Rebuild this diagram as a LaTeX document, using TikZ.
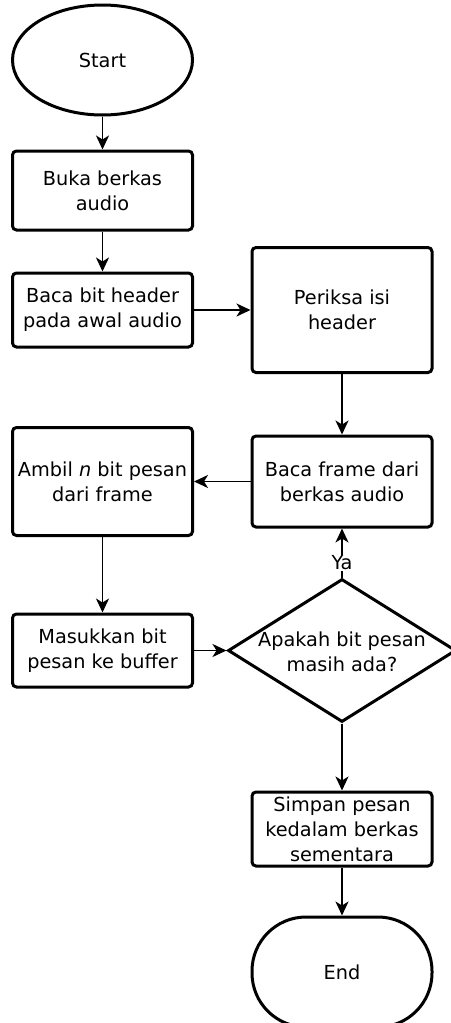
\documentclass[tikz,border=0pt]{standalone}
\usepackage{fontspec}
\setmainfont{DejaVu Sans}
\usetikzlibrary{shapes.geometric,arrows.meta}
\begin{document}
\begin{tikzpicture}[x=1pt,y=-1pt,
  txt/.style={font=\fontsize{19.3}{25}\selectfont, align=center, inner sep=0pt},
  boxnode/.style={txt, draw, line width=3pt, rounded corners=4pt, minimum width=180pt},
  startnode/.style={txt, draw, ellipse, line width=3pt, minimum width=180pt, minimum height=110pt},
  endnode/.style={txt, draw, rectangle, line width=3pt, rounded corners=54pt, minimum width=180pt, minimum height=110pt},
  decnode/.style={draw, diamond, line width=3pt, inner sep=0pt, minimum width=228pt, minimum height=143pt},
  arr/.style={line width=1.8pt, -{Stealth[length=14pt,width=13pt,inset=4pt]}},
  lbl/.style={font=\fontsize{19.3}{25}\selectfont, fill=white, inner sep=1pt}]
\useasboundingbox (0,0) rectangle (450,1023);
\node[startnode] (start) at (102.5,60) {Start};
\node[boxnode, minimum height=79pt] (buka) at (102.5,190.5) {Buka berkas\\audio};
\node[boxnode, minimum height=74pt] (baca) at (102.5,310) {Baca bit header\\pada awal audio};
\node[boxnode, minimum height=125pt] (periksa) at (342,310) {Periksa isi\\header};
\node[boxnode, minimum height=91pt] (frame) at (342,481.5) {Baca frame dari\\berkas audio};
\node[boxnode, minimum height=108pt] (ambil) at (102.5,481.5) {Ambil \textit{n} bit pesan\\dari frame};
\node[boxnode, minimum height=73pt] (masuk) at (102.5,650.5) {Masukkan bit\\pesan ke buffer};
\node[decnode] (dec) at (342,650.5) {};
\node[txt] (dectxt) at (342,652) {Apakah bit pesan\\masih ada?};
\node[boxnode, minimum height=74pt] (simpan) at (342,829) {Simpan pesan\\kedalam berkas\\sementara};
\node[endnode] (end) at (342,972) {End};
\draw[arr] (start) -- (buka);
\draw[arr] (buka) -- (baca);
\draw[arr] (baca) -- (periksa);
\draw[arr] (periksa) -- (frame);
\draw[arr] (frame) -- (ambil);
\draw[arr] (ambil) -- (masuk);
\draw[arr] (masuk) -- (dec);
\draw[arr] (dec) -- node[lbl, pos=0.3] (ya) {Ya} (frame);
\draw[arr] (dec) -- (simpan);
\draw[arr] (simpan) -- (end);
\end{tikzpicture}
\end{document}
